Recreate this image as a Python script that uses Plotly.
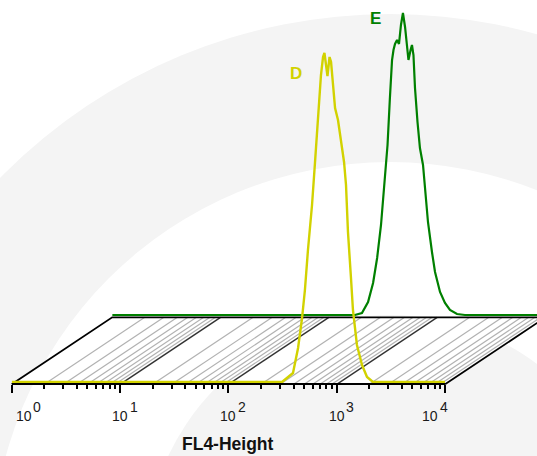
import math
import plotly.graph_objects as go

# ---------------- data ----------------
D_FL4 = [1, 313, 395, 440, 479, 509, 543, 592, 631, 673, 716, 748, 771, 822, 859,
         887, 925, 966, 1028, 1096, 1169, 1219, 1271, 1355, 1413, 1538, 1714, 1905,
         2163, 10000]
D_COUNTS = [0, 0, 4.5, 17, 32, 46, 66, 88.5, 110, 133.5, 153.5, 162.5, 164.5, 153,
            162.5, 160, 148.5, 137, 131, 121, 110, 98.5, 75, 52, 36, 18.5, 8.5, 2.5,
            0, 0]

E_FL4 = [1, 174, 202, 230, 256, 279, 303, 324, 348, 366, 383, 395, 408, 426, 444,
         463, 483, 505, 526, 543, 568, 585, 604, 624, 658, 693, 740, 771, 822, 895,
         955, 1062, 1180, 1312, 1524, 1803, 10000]
E_COUNTS = [0, 0, 1, 6.5, 16, 28.5, 45, 65, 85, 108.5, 127.5, 132.5, 135.5, 137.5,
            135.5, 145, 151, 144, 135, 127.5, 132.5, 135, 130, 113.5, 96.5, 83.5,
            75, 65, 46.5, 31.5, 21.5, 11.5, 6, 2.5, 0.5, 0, 0]

SERIES_NAMES = ["D", "E"]
MAJOR_TICKS = [1, 10, 100, 1000, 10000]
TICK_EXPONENTS = ["0", "1", "2", "3", "4"]
MINOR_MULTIPLIERS = [2, 3, 4, 5, 6, 7, 8, 9]
AXIS_TITLE = "FL4-Height"

# ---------------- layout constants ----------------
W, H = 537, 456
LOG_MIN, LOG_MAX = 0, 4
FRONT_X0 = 11.7          # pixel of 10^0 on the front axis
DECADE_PX = 108.33       # pixels per decade
DEPTH_DX = 100.5         # 3D offset of the back histogram
DEPTH_DY = 67.0
FRONT_EDGE_Y = 384.3     # front edge of the floor
D_BASE_Y = 382.0
E_BASE_Y = 315.0
PX_PER_COUNT = 2.0

YELLOW = "#d2d200"
GREEN = "#008000"
BG_GRAY = "#f4f4f4"
FONT = "Liberation Sans, Arial, sans-serif"


def px(x):
    return x / W


def py(y):
    return 1 - y / H


front_x1 = FRONT_X0 + DECADE_PX * (LOG_MAX - LOG_MIN)
back_x0 = FRONT_X0 + DEPTH_DX
dx_dec = DEPTH_DX / DECADE_PX

fig = go.Figure()

# ---------------- floor (subplot x/y, decade x depth units) ----------------
fig.add_trace(go.Scatter(
    x=[LOG_MIN, LOG_MAX, LOG_MAX + dx_dec, LOG_MIN + dx_dec, LOG_MIN],
    y=[0, 0, 1, 1, 0], mode="lines", fill="toself", fillcolor="white",
    line=dict(width=0), hoverinfo="skip", showlegend=False, xaxis="x", yaxis="y"))

minor_x, minor_y = [], []
for k in range(LOG_MIN, LOG_MAX):
    for m in MINOR_MULTIPLIERS:
        lx = math.log10(m * 10 ** k)
        minor_x += [lx, lx + dx_dec, None]
        minor_y += [0, 1, None]
fig.add_trace(go.Scatter(x=minor_x, y=minor_y, mode="lines",
                         line=dict(color="#b2b2b2", width=1.2),
                         hoverinfo="skip", showlegend=False, xaxis="x", yaxis="y"))

major_x, major_y = [], []
for v in MAJOR_TICKS[1:-1]:
    lx = math.log10(v)
    major_x += [lx, lx + dx_dec, None]
    major_y += [0, 1, None]
fig.add_trace(go.Scatter(x=major_x, y=major_y, mode="lines",
                         line=dict(color="#333333", width=1.4),
                         hoverinfo="skip", showlegend=False, xaxis="x", yaxis="y"))

fig.add_trace(go.Scatter(
    x=[LOG_MIN, LOG_MIN + dx_dec, LOG_MAX + dx_dec, LOG_MAX],
    y=[0, 1, 1, 0], mode="lines", line=dict(color="black", width=1.8),
    hoverinfo="skip", showlegend=False, xaxis="x", yaxis="y"))

# ---------------- back histogram E (x2/y2) ----------------
fig.add_trace(go.Scatter(x=E_FL4, y=E_COUNTS, mode="lines", name=SERIES_NAMES[1],
                         line=dict(color=GREEN, width=2.2),
                         showlegend=False, xaxis="x2", yaxis="y2"))

# ---------------- front histogram D (x3/y3) ----------------
fig.add_trace(go.Scatter(x=D_FL4, y=D_COUNTS, mode="lines", name=SERIES_NAMES[0],
                         line=dict(color=YELLOW, width=2.4),
                         showlegend=False, xaxis="x3", yaxis="y3"))

minor_vals = [m * 10 ** k for k in range(LOG_MIN, LOG_MAX) for m in MINOR_MULTIPLIERS]

hidden = dict(visible=False, showgrid=False, zeroline=False)
fig.update_layout(
    width=W, height=H, margin=dict(l=0, r=0, t=0, b=0),
    paper_bgcolor="white", plot_bgcolor="rgba(0,0,0,0)",
    xaxis=dict(domain=[0, 1], anchor="y", fixedrange=True,
               range=[LOG_MIN - FRONT_X0 / DECADE_PX, LOG_MIN + (W - FRONT_X0) / DECADE_PX],
               **hidden),
    yaxis=dict(domain=[0, 1], anchor="x", fixedrange=True,
               range=[-(H - FRONT_EDGE_Y) / DEPTH_DY, FRONT_EDGE_Y / DEPTH_DY], **hidden),
    xaxis2=dict(domain=[px(back_x0), 1], anchor="y2", type="log",
                range=[LOG_MIN, LOG_MIN + (W - back_x0) / DECADE_PX], **hidden),
    yaxis2=dict(domain=[py(E_BASE_Y + 2), 1], anchor="x2",
                range=[-2 / PX_PER_COUNT, E_BASE_Y / PX_PER_COUNT], **hidden),
    xaxis3=dict(domain=[px(FRONT_X0), px(front_x1)], anchor="y3", type="log",
                range=[LOG_MIN, LOG_MAX], showgrid=False, zeroline=False,
                showline=True, linecolor="black", linewidth=2,
                ticks="outside", tickvals=MAJOR_TICKS, ticklen=8, tickwidth=2,
                tickcolor="black", showticklabels=False,
                minor=dict(tickvals=minor_vals, ticks="outside", ticklen=4,
                           tickwidth=1.5, tickcolor="black", showgrid=False)),
    yaxis3=dict(domain=[py(FRONT_EDGE_Y - 1), 1], anchor="x3",
                range=[-(FRONT_EDGE_Y - 1 - D_BASE_Y) / PX_PER_COUNT, D_BASE_Y / PX_PER_COUNT],
                **hidden),
)

# ---------------- background watermark rings ----------------
CX, CY = 390, 560
for r, col in [(546, BG_GRAY), (398, "white"), (245, BG_GRAY)]:
    fig.add_shape(type="circle", xref="paper", yref="paper", layer="below",
                  x0=px(CX - r), x1=px(CX + r), y0=py(CY + r), y1=py(CY - r),
                  fillcolor=col, line=dict(width=0))

# ---------------- tick labels ----------------
label_shift = [12, 0, 0, 0, -15]
for v, e, s in zip(MAJOR_TICKS, TICK_EXPONENTS, label_shift):
    fig.add_annotation(x=math.log10(v), xref="x3", y=py(416), yref="paper",
                       text="10", showarrow=False, xanchor="center", yanchor="middle",
                       xshift=s, font=dict(family=FONT, size=14, color="#1a1a1a"))
    fig.add_annotation(x=math.log10(v), xref="x3", y=py(407), yref="paper",
                       text=e, showarrow=False, xanchor="left", yanchor="middle",
                       xshift=s + 7.5, font=dict(family=FONT, size=14, color="#1a1a1a"))

fig.add_annotation(x=px(227.5), y=py(444), xref="paper", yref="paper",
                   text="<b>" + AXIS_TITLE + "</b>", showarrow=False,
                   xanchor="center", yanchor="middle",
                   font=dict(family=FONT, size=17.5, color="#111111"))

# series labels
fig.add_annotation(x=px(296), y=py(73.5), xref="paper", yref="paper",
                   text="<b>" + SERIES_NAMES[0] + "</b>", showarrow=False,
                   xanchor="center", yanchor="middle",
                   font=dict(family=FONT, size=17, color=YELLOW))
fig.add_annotation(x=px(375.5), y=py(19), xref="paper", yref="paper",
                   text="<b>" + SERIES_NAMES[1] + "</b>", showarrow=False,
                   xanchor="center", yanchor="middle",
                   font=dict(family=FONT, size=17, color=GREEN))

fig.write_html("out.html", config={"displayModeBar": False},
               post_script="document.body.style.margin='0';")
